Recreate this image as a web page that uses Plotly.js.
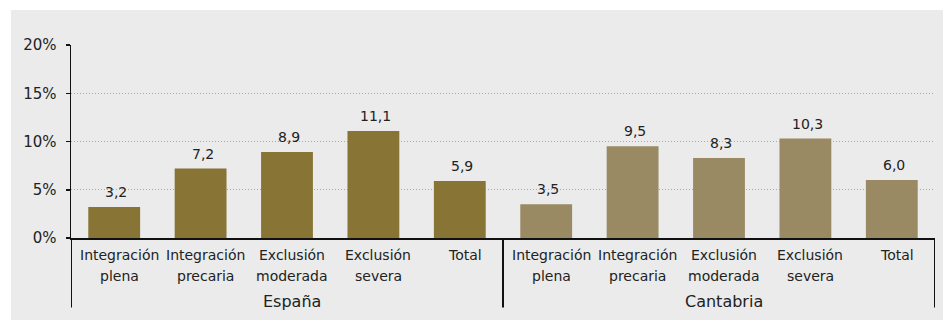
<!DOCTYPE html>
<html><head><meta charset="utf-8">
<script src="https://cdn.plot.ly/plotly-3.0.1.min.js"></script>
<style>
html,body{margin:0;padding:0;background:#fff;}
#chart{position:absolute;left:11px;top:10px;width:932px;height:310px;}
</style></head>
<body><div id="chart"></div>
<script>
const categories = ["Integración|plena","Integración|precaria","Exclusión|moderada","Exclusión|severa","Total|"];
const groups = ["España","Cantabria"];
const espana = [3.2, 7.2, 8.9, 11.1, 5.9];
const cantabria = [3.5, 9.5, 8.3, 10.3, 6.0];
const yTicks = [0,5,10,15,20];

const n = categories.length;
const xEs = categories.map((c,i)=>i);
const xCa = categories.map((c,i)=>i+n);
const fmt = v => v.toFixed(1).replace('.',',');
const fam = "'DejaVu Sans', sans-serif";
const font = {family:fam, size:14, color:'#222'};

const traces = [
  {type:'bar', x:xEs, y:espana, marker:{color:'#887536'}, width:0.6, hoverinfo:'skip'},
  {type:'bar', x:xCa, y:cantabria, marker:{color:'#9a8a63'}, width:0.6, hoverinfo:'skip'}
];

const annotations = [];
espana.forEach((v,i)=>annotations.push({x:xEs[i], y:v, text:fmt(v), showarrow:false, yanchor:'bottom', yshift:5, xshift:2, font:font}));
cantabria.forEach((v,i)=>annotations.push({x:xCa[i], y:v, text:fmt(v), showarrow:false, yanchor:'bottom', yshift:5, xshift:2, font:font}));
[xEs, xCa].forEach(xs=>{
  categories.forEach((c,i)=>{
    const [l1,l2] = c.split('|');
    annotations.push({x:xs[i], y:0, yref:'paper', yanchor:'middle', yshift:-17, xshift:5, text:l1, showarrow:false, font:font});
    if(l2) annotations.push({x:xs[i], y:0, yref:'paper', yanchor:'middle', yshift:-38, xshift:5, text:l2, showarrow:false, font:font});
  });
});
groups.forEach((g,gi)=>annotations.push({x:gi*n+(n-1)/2, y:0, yref:'paper', yanchor:'middle', yshift:-63, xshift:5, text:g, showarrow:false, font:{family:fam,size:16,color:'#222'}}));

const shapes = [];
for(let k=0;k<=groups.length;k++){
  shapes.push({type:'line', xref:'x', yref:'paper', x0:k*n-0.5, x1:k*n-0.5, y0:0, y1:-0.36, line:{color:'#111', width:2}});
}

const layout = {
  width:932, height:310,
  margin:{l:60, r:8, t:35, b:82},
  paper_bgcolor:'#ebebeb', plot_bgcolor:'#ebebeb',
  showlegend:false,
  font:font,
  xaxis:{
    range:[-0.5, 2*n-0.5],
    showticklabels:false,
    showgrid:false, zeroline:false,
    showline:true, linecolor:'#111', linewidth:1.5,
    ticks:'', fixedrange:true
  },
  yaxis:{
    range:[0,20], tickvals:yTicks, ticktext:yTicks.map(t=>t+'%'),
    showgrid:true, gridcolor:'#a8a8a8', griddash:'1px,2px', gridwidth:1,
    zeroline:false, showline:true, linecolor:'#111', linewidth:1.5,
    ticks:'outside', ticklen:4, tickcolor:'#111', tickwidth:1.5,
    ticklabelstandoff:6,
    tickfont:{family:fam,size:15,color:'#222'}, fixedrange:true
  },
  annotations:annotations,
  shapes:shapes
};
Plotly.newPlot('chart', traces, layout, {displayModeBar:false, staticPlot:true});
</script></body></html>
